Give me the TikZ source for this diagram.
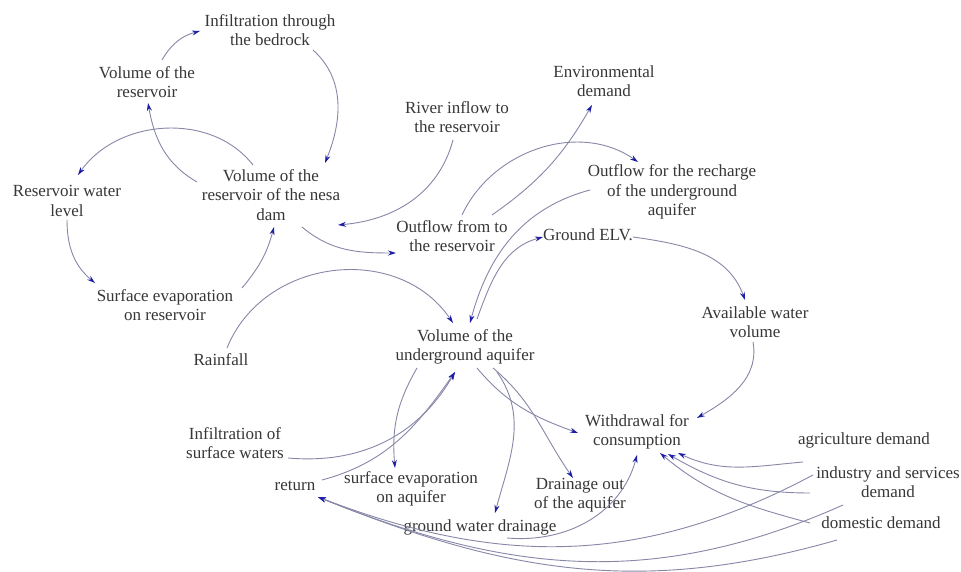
\documentclass[tikz,border=0pt]{standalone}
\usepackage{fontspec}
\setmainfont{Liberation Serif}
\usetikzlibrary{arrows.meta}
\definecolor{linec}{RGB}{135,135,168}
\definecolor{tipc}{RGB}{30,30,165}
\definecolor{txtc}{RGB}{55,55,55}
\begin{document}
\begin{tikzpicture}[x=1pt,y=1pt,
  lbl/.style={align=center,inner sep=0pt,text=txtc,font=\fontsize{17}{19.5}\selectfont},
  link/.style={draw=linec,line width=0.9pt,-{Stealth[length=8pt,width=5pt,color=tipc]}}]
\path[use as bounding box,fill=white] (0,0) rectangle (961,572);
% nodes
\node[lbl] (bed) at (270,542) {Infiltration through\\the bedrock};
\node[lbl] (volres) at (147,490) {Volume of the\\reservoir};
\node[lbl] (level) at (67,371) {Reservoir water\\level};
\node[lbl] (nesa) at (271,377) {Volume of the\\reservoir of the nesa\\dam};
\node[lbl] (river) at (457,455) {River inflow to\\the reservoir};
\node[lbl] (env) at (604,491) {Environmental\\demand};
\node[lbl] (recharge) at (672,380) {Outflow for the recharge\\of the underground\\aquifer};
\node[lbl] (outflow) at (452,336) {Outflow from to\\the reservoir};
\node[lbl] (elv) at (588,337) {Ground ELV.};
\node[lbl] (evres) at (165,267) {Surface evaporation\\on reservoir};
\node[lbl] (rain) at (221,212) {Rainfall};
\node[lbl] (aquifer) at (465,225) {Volume of the\\underground aquifer};
\node[lbl] (avail) at (755,250) {Available water\\volume};
\node[lbl] (withdraw) at (637,140) {Withdrawal for\\consumption};
\node[lbl] (agri) at (864,132) {agriculture demand};
\node[lbl] (ind) at (888,90) {industry and services\\demand};
\node[lbl] (dom) at (881,49) {domestic demand};
\node[lbl] (infsurf) at (235,129) {Infiltration of\\surface waters};
\node[lbl] (ret) at (295,86) {return};
\node[lbl] (evaq) at (411,83) {surface evaporation\\on aquifer};
\node[lbl] (drainout) at (580,77) {Drainage out\\of the aquifer};
\node[lbl] (gwd) at (480,45) {ground water drainage};
% connectors
\draw[link] ([shift={(15,22)}]volres.center) to[out=60,in=195] ([shift={(-70,-1)}]bed.center);
\draw[link] ([shift={(43,-20)}]bed.center) to[out=-42,in=68] ([shift={(54,32)}]nesa.center);
\draw[link] ([shift={(-74,13)}]nesa.center) to[out=150,in=-80] ([shift={(1,-21)}]volres.center);
\draw[link] ([shift={(-18,30)}]nesa.center) to[out=128,in=55] ([shift={(11,26)}]level.center);
\draw[link] ([shift={(0,-19)}]level.center) to[out=-90,in=140] ([shift={(-70,22)}]evres.center);
\draw[link] ([shift={(77,17)}]evres.center) to[out=50,in=-105] ([shift={(3,-32)}]nesa.center);
\draw[link] ([shift={(-4,-23)}]river.center) to[out=-105,in=5] ([shift={(67,-30)}]nesa.center);
\draw[link] ([shift={(31,-32)}]nesa.center) to[out=-40,in=180] ([shift={(-56,-17)}]outflow.center);
\draw[link] ([shift={(10,21)}]outflow.center) to[out=65,in=145] ([shift={(-34,30)}]recharge.center);
\draw[link] ([shift={(40,21)}]outflow.center) to[out=35,in=-120] ([shift={(-12,-24)}]env.center);
\draw[link] ([shift={(-82,2)}]recharge.center) to[out=195,in=75] ([shift={(5,24)}]aquifer.center);
\draw[link] ([shift={(12,28)}]aquifer.center) to[out=70,in=195] ([shift={(-45,-2)}]elv.center);
\draw[link] ([shift={(6,12)}]rain.center) to[out=68,in=124,looseness=1.1] ([shift={(-12,24)}]aquifer.center);
\draw[link] ([shift={(45,-2)}]elv.center) to[out=-8,in=110] ([shift={(-10,22)}]avail.center);
\draw[link] ([shift={(-2,-20)}]avail.center) to[out=-80,in=30] ([shift={(60,14)}]withdraw.center);
\draw[link] ([shift={(-48,-21)}]aquifer.center) to[out=-120,in=95] ([shift={(-16,21)}]evaq.center);
\draw[link] ([shift={(53,-15)}]infsurf.center) to[out=-5,in=-120] ([shift={(-10,-25)}]aquifer.center);
\draw[link] ([shift={(27,6)}]ret.center) to[out=15,in=-125] ([shift={(-10,-25)}]aquifer.center);
\draw[link] ([shift={(32,-25)}]aquifer.center) to[out=-55,in=75] ([shift={(15,14)}]gwd.center);
\draw[link] ([shift={(12,-21)}]aquifer.center) to[out=-50,in=160] ([shift={(-59,-1)}]withdraw.center);
\draw[link] ([shift={(28,-21)}]aquifer.center) to[out=-40,in=125] ([shift={(-7,17)}]drainout.center);
\draw[link] ([shift={(27,-11)}]gwd.center) to[out=-5,in=-105] ([shift={(0,-23)}]withdraw.center);
\draw[link] ([shift={(-61,-22)}]agri.center) to[out=185,in=-25] ([shift={(41,-21)}]withdraw.center);
\draw[link] ([shift={(-78,-11)}]ind.center) to[out=180,in=-30] ([shift={(31,-22)}]withdraw.center);
\draw[link] ([shift={(-71,0)}]dom.center) to[out=165,in=-40] ([shift={(23,-21)}]withdraw.center);
\draw[link] ([shift={(-51,-35)}]agri.center) to[out=208,in=-21] ([shift={(23,-11)}]ret.center);
\draw[link] ([shift={(-45,-23)}]ind.center) to[out=204,in=-22] ([shift={(23,-11)}]ret.center);
\draw[link] ([shift={(-44,-17)}]dom.center) to[out=196,in=-22] ([shift={(23,-11)}]ret.center);
\end{tikzpicture}
\end{document}
